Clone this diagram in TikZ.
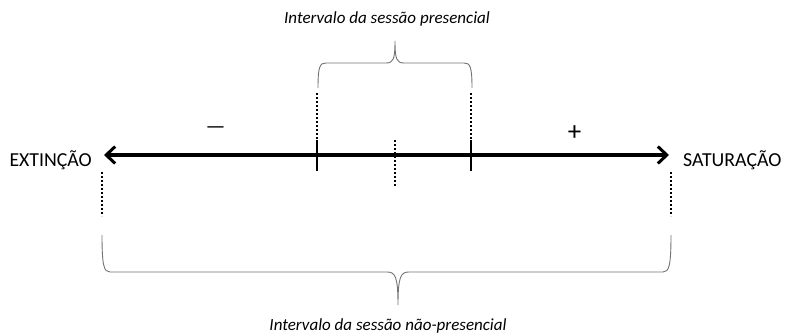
\documentclass[tikz,border=0pt]{standalone}
\usepackage{fontspec}
\setmainfont{Carlito}
\usetikzlibrary{arrows.meta}
\begin{document}
\begin{tikzpicture}[x=1pt,y=-1pt,
  axis/.style={line width=3.4pt, {Straight Barb[length=9pt,width=17pt,line width=3pt]}-{Straight Barb[length=9pt,width=17pt,line width=3pt]}},
  dots/.style={line width=2.4pt, dash pattern=on 2pt off 2pt},
  tickline/.style={line width=2.2pt},
  brace/.style={line width=0.9pt, draw=black!55},
  endlab/.style={font=\fontsize{19.8}{23}\selectfont, inner sep=0pt},
  lab/.style={font=\itshape\fontsize{17}{20}\selectfont, inner sep=0pt},
  sign/.style={font=\fontsize{22}{24}\selectfont, inner sep=0pt},
  bigsign/.style={font=\fontsize{27}{28}\selectfont, inner sep=0pt}]
\useasboundingbox (0,0) rectangle (788,335);
% axis
\coordinate (L) at (104,155);
\coordinate (R) at (669,155);
\draw[axis] (L) -- (R);
\node[endlab, anchor=east] (ext) at (92,160) {EXTINÇÃO};
\node[endlab, anchor=west] (sat) at (683,160) {SATURAÇÃO};
% ticks
\coordinate (t1a) at (317,140); \coordinate (t1b) at (317,171);
\coordinate (t2a) at (471,140); \coordinate (t2b) at (471,171);
\draw[tickline] (t1a) -- (t1b);
\draw[tickline] (t2a) -- (t2b);
% dotted lines
\coordinate (d1a) at (317,93); \coordinate (d1b) at (317,139);
\coordinate (d2a) at (471,93); \coordinate (d2b) at (471,139);
\coordinate (dma) at (395,140); \coordinate (dmb) at (395,186);
\coordinate (dla) at (102,172); \coordinate (dlb) at (102,216);
\coordinate (dra) at (671,172); \coordinate (drb) at (671,216);
\draw[dots] (d1a) -- (d1b);
\draw[dots] (d2a) -- (d2b);
\draw[dots] (dma) -- (dmb);
\draw[dots] (dla) -- (dlb);
\draw[dots] (dra) -- (drb);
% signs
\node[sign] (minus) at (215.5,130) {\textemdash};
\node[bigsign] (plus) at (574.5,133) {+};
% top brace
\coordinate (tbl) at (318,88);
\coordinate (tbr) at (472,88);
\coordinate (tbt) at (395,41);
\draw[brace] (tbl) .. controls (318,66) and (320,63) .. (326,63) -- (386,63)
  .. controls (393,63) and (395,60) .. (tbt)
  .. controls (395,60) and (397,63) .. (404,63) -- (464,63)
  .. controls (470,63) and (472,66) .. (tbr);
\node[lab] (toplab) at (387,19) {Intervalo da sessão presencial};
% bottom brace
\coordinate (bbl) at (102,235);
\coordinate (bbr) at (671,235);
\coordinate (bbt) at (398,305);
\draw[brace] (bbl) .. controls (102,266) and (104,272) .. (110,272) -- (387,272)
  .. controls (395,272) and (398,276) .. (bbt)
  .. controls (398,276) and (401,272) .. (409,272) -- (663,272)
  .. controls (669,272) and (671,266) .. (bbr);
\node[lab] (botlab) at (388,326) {Intervalo da sessão não-presencial};
\end{tikzpicture}
\end{document}
